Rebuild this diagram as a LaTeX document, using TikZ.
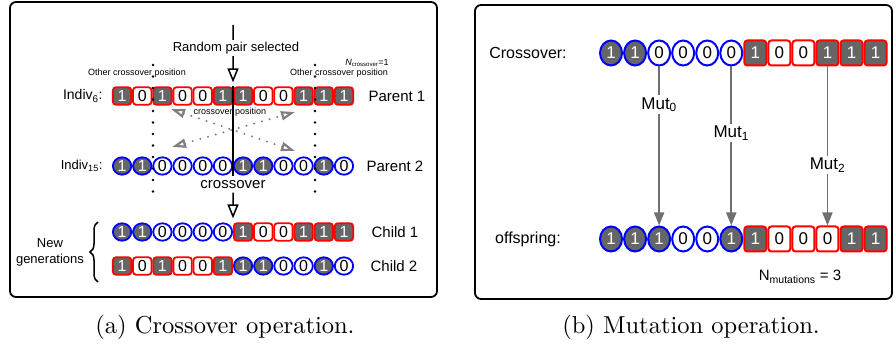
\documentclass[tikz,border=0pt]{standalone}
\usepackage{fontspec}
\setsansfont{Liberation Sans}
\newfontfamily\capfont{lmroman10-regular}[Extension=.otf]
\usetikzlibrary{arrows.meta,shapes.geometric,decorations.pathreplacing}
\definecolor{bitgray}{RGB}{102,102,102}
\definecolor{mutgray}{RGB}{112,112,112}
\newcommand{\fs}[1]{\fontsize{#1}{#1}\selectfont}
\begin{document}
\begin{tikzpicture}[x=1pt,y=-1pt,
    bit/.style={inner sep=0pt,font=\sffamily\fs{16}},
    bit1/.style={fill=bitgray,text=white},
    bit0/.style={fill=white,text=black},
    redbit/.style={bit,rectangle,rounded corners=3pt,draw=red,line width=1.8pt},
    bluebit/.style={bit,ellipse,draw=blue,line width=1.8pt},
    cellA/.style={minimum width=18.4pt,minimum height=17.4pt},
    cellB/.style={minimum width=22pt,minimum height=25pt,line width=2pt,font=\sffamily\fs{17}},
    lbl/.style={font=\sffamily\fs{15}},
    openarrow/.style={line width=1.5pt,-{Triangle[open,length=14pt,width=11pt]}},
    dotline/.style={line width=2.6pt,line cap=round,dash pattern=on 0pt off 11.5pt},
    swapline/.style={draw=gray,line width=2.2pt,line cap=round,dash pattern=on 0pt off 8pt,
        {Triangle[open,length=14pt,width=9pt]}-{Triangle[open,length=14pt,width=9pt]}},
    mut/.style={draw=mutgray,line width=1.8pt,-{Triangle[length=13pt,width=10pt]}},
    mutlbl/.style={fill=white,inner sep=2pt,font=\sffamily\fs{17}},
    panel/.style={line width=1.8pt,rounded corners=6pt}]
    \useasboundingbox (0,0) rectangle (896,347);
    \draw[panel] (10,2) rectangle (437,297);
    \draw[panel] (475,5) rectangle (892,299);

% (a) crossover
    \foreach \bv [count=\i] in {1,0,1,0,0,1,1,0,0,1,1,1}
        \node[redbit,cellA,bit\bv] (p1-\i) at ({112+(\i-0.5)*20.17},96) {\bv};
    \foreach \bv [count=\i] in {1,1,0,0,0,0,1,1,0,0,1,0}
        \node[bluebit,cellA,bit\bv] (p2-\i) at ({112+(\i-0.5)*20.17},166) {\bv};
    \foreach \sh/\bv [count=\i] in {bluebit/1,bluebit/1,bluebit/0,bluebit/0,bluebit/0,bluebit/0,
            redbit/1,redbit/0,redbit/0,redbit/1,redbit/1,redbit/1}
        \node[\sh,cellA,bit\bv] (c1-\i) at ({112+(\i-0.5)*20.17},232) {\bv};
    \foreach \sh/\bv [count=\i] in {redbit/1,redbit/0,redbit/1,redbit/0,redbit/0,redbit/1,
            bluebit/1,bluebit/1,bluebit/0,bluebit/0,bluebit/1,bluebit/0}
        \node[\sh,cellA,bit\bv] (c2-\i) at ({112+(\i-0.5)*20.17},266) {\bv};

    \node[font=\sffamily\fs{14},anchor=east] (ind6) at (106,96) {Indiv\textsubscript{6}:};
    \node[font=\sffamily\fs{13},anchor=east] (ind15) at (106,166) {Indiv\textsubscript{15}:};
    \node[lbl] (par1) at (397,96) {Parent 1};
    \node[lbl] (par2) at (395,166) {Parent 2};
    \node[lbl] (ch1) at (395,232) {Child 1};
    \node[lbl] (ch2) at (394,266) {Child 2};

    \coordinate (start) at (233,25);
    \draw[openarrow,shorten >=4pt] (start) -- (p1-6.north east);
    \node[fill=white,inner sep=1.5pt,font=\sffamily\fs{13}] (rps) at (236,48) {Random pair selected};
    \node[font=\sffamily\fs{9}] (xpos) at (230,112) {crossover position};
    \draw[line width=1.5pt] (p1-6.north east) -- (p2-6.south -| p1-6.north east);
    \node[lbl] (xover) at (233,185) {crossover};
    \draw[openarrow,shorten >=4pt] (xover) -- (c1-7.north west);

    % other positions
    \coordinate (la) at (153,65);
    \coordinate (lb) at (153,195);
    \coordinate (ra) at (315,65);
    \coordinate (rb) at (315,195);
    \draw[dotline] (la) -- (lb);
    \draw[dotline] (ra) -- (rb);
    \node[font=\sffamily\fs{9}] (oleft) at (137,73) {Other crossover position};
    \node[font=\sffamily\fs{9}] (oright) at (339,73) {Other crossover position};
    \node[font=\sffamily\fs{9}] (ncross) at (367,63) {\textit{N}\textsubscript{crossover}=1};

    \coordinate (sa1) at (171,109);
    \coordinate (sa2) at (295,151);
    \coordinate (sb1) at (172,147);
    \coordinate (sb2) at (295,112);
    \draw[swapline] (sa1) -- (sa2);
    \draw[swapline] (sb1) -- (sb2);

    \coordinate (bra) at (98,282);
    \coordinate (brb) at (98,222);
    \draw[line width=1.5pt,decorate,decoration={brace,amplitude=8pt}] (bra) -- (brb);
    \node[align=center,font=\sffamily\fontsize{13}{16}\selectfont] (newgen) at (50,252) {New\\generations};

% (b) mutation
    \foreach \sh/\bv [count=\i] in {bluebit/1,bluebit/1,bluebit/0,bluebit/0,bluebit/0,bluebit/0,
            redbit/1,redbit/0,redbit/0,redbit/1,redbit/1,redbit/1}
        \node[\sh,cellB,bit\bv] (cr-\i) at ({599+(\i-0.5)*24.05},53) {\bv};
    \foreach \sh/\bv [count=\i] in {bluebit/1,bluebit/1,bluebit/1,bluebit/0,bluebit/0,bluebit/1,
            redbit/1,redbit/0,redbit/0,redbit/0,redbit/1,redbit/1}
        \node[\sh,cellB,bit\bv] (os-\i) at ({599+(\i-0.5)*24.05},239) {\bv};
    \node[font=\sffamily\fs{16}] (crlbl) at (528,53) {Crossover:};
    \node[font=\sffamily\fs{16}] (oslbl) at (528,239) {offspring:};

    \draw[mut] (cr-3) -- (os-3) node[mutlbl,pos=0.24] (mut0) {Mut\textsubscript{0}};
    \draw[mut] (cr-6) -- (os-6) node[mutlbl,pos=0.42] (mut1) {Mut\textsubscript{1}};
    \draw[mut] (cr-10) -- (os-10) node[mutlbl,pos=0.62] (mut2) {Mut\textsubscript{2}};
    \node[font=\sffamily\fs{15}] (nmut) at (800,277) {N\textsubscript{mutations} = 3};

% captions
    \node[font=\capfont\fs{24.5}] (capa) at (225,327) {(a) Crossover operation.};
    \node[font=\capfont\fs{24.5}] (capb) at (691,327) {(b) Mutation operation.};
\end{tikzpicture}
\end{document}
